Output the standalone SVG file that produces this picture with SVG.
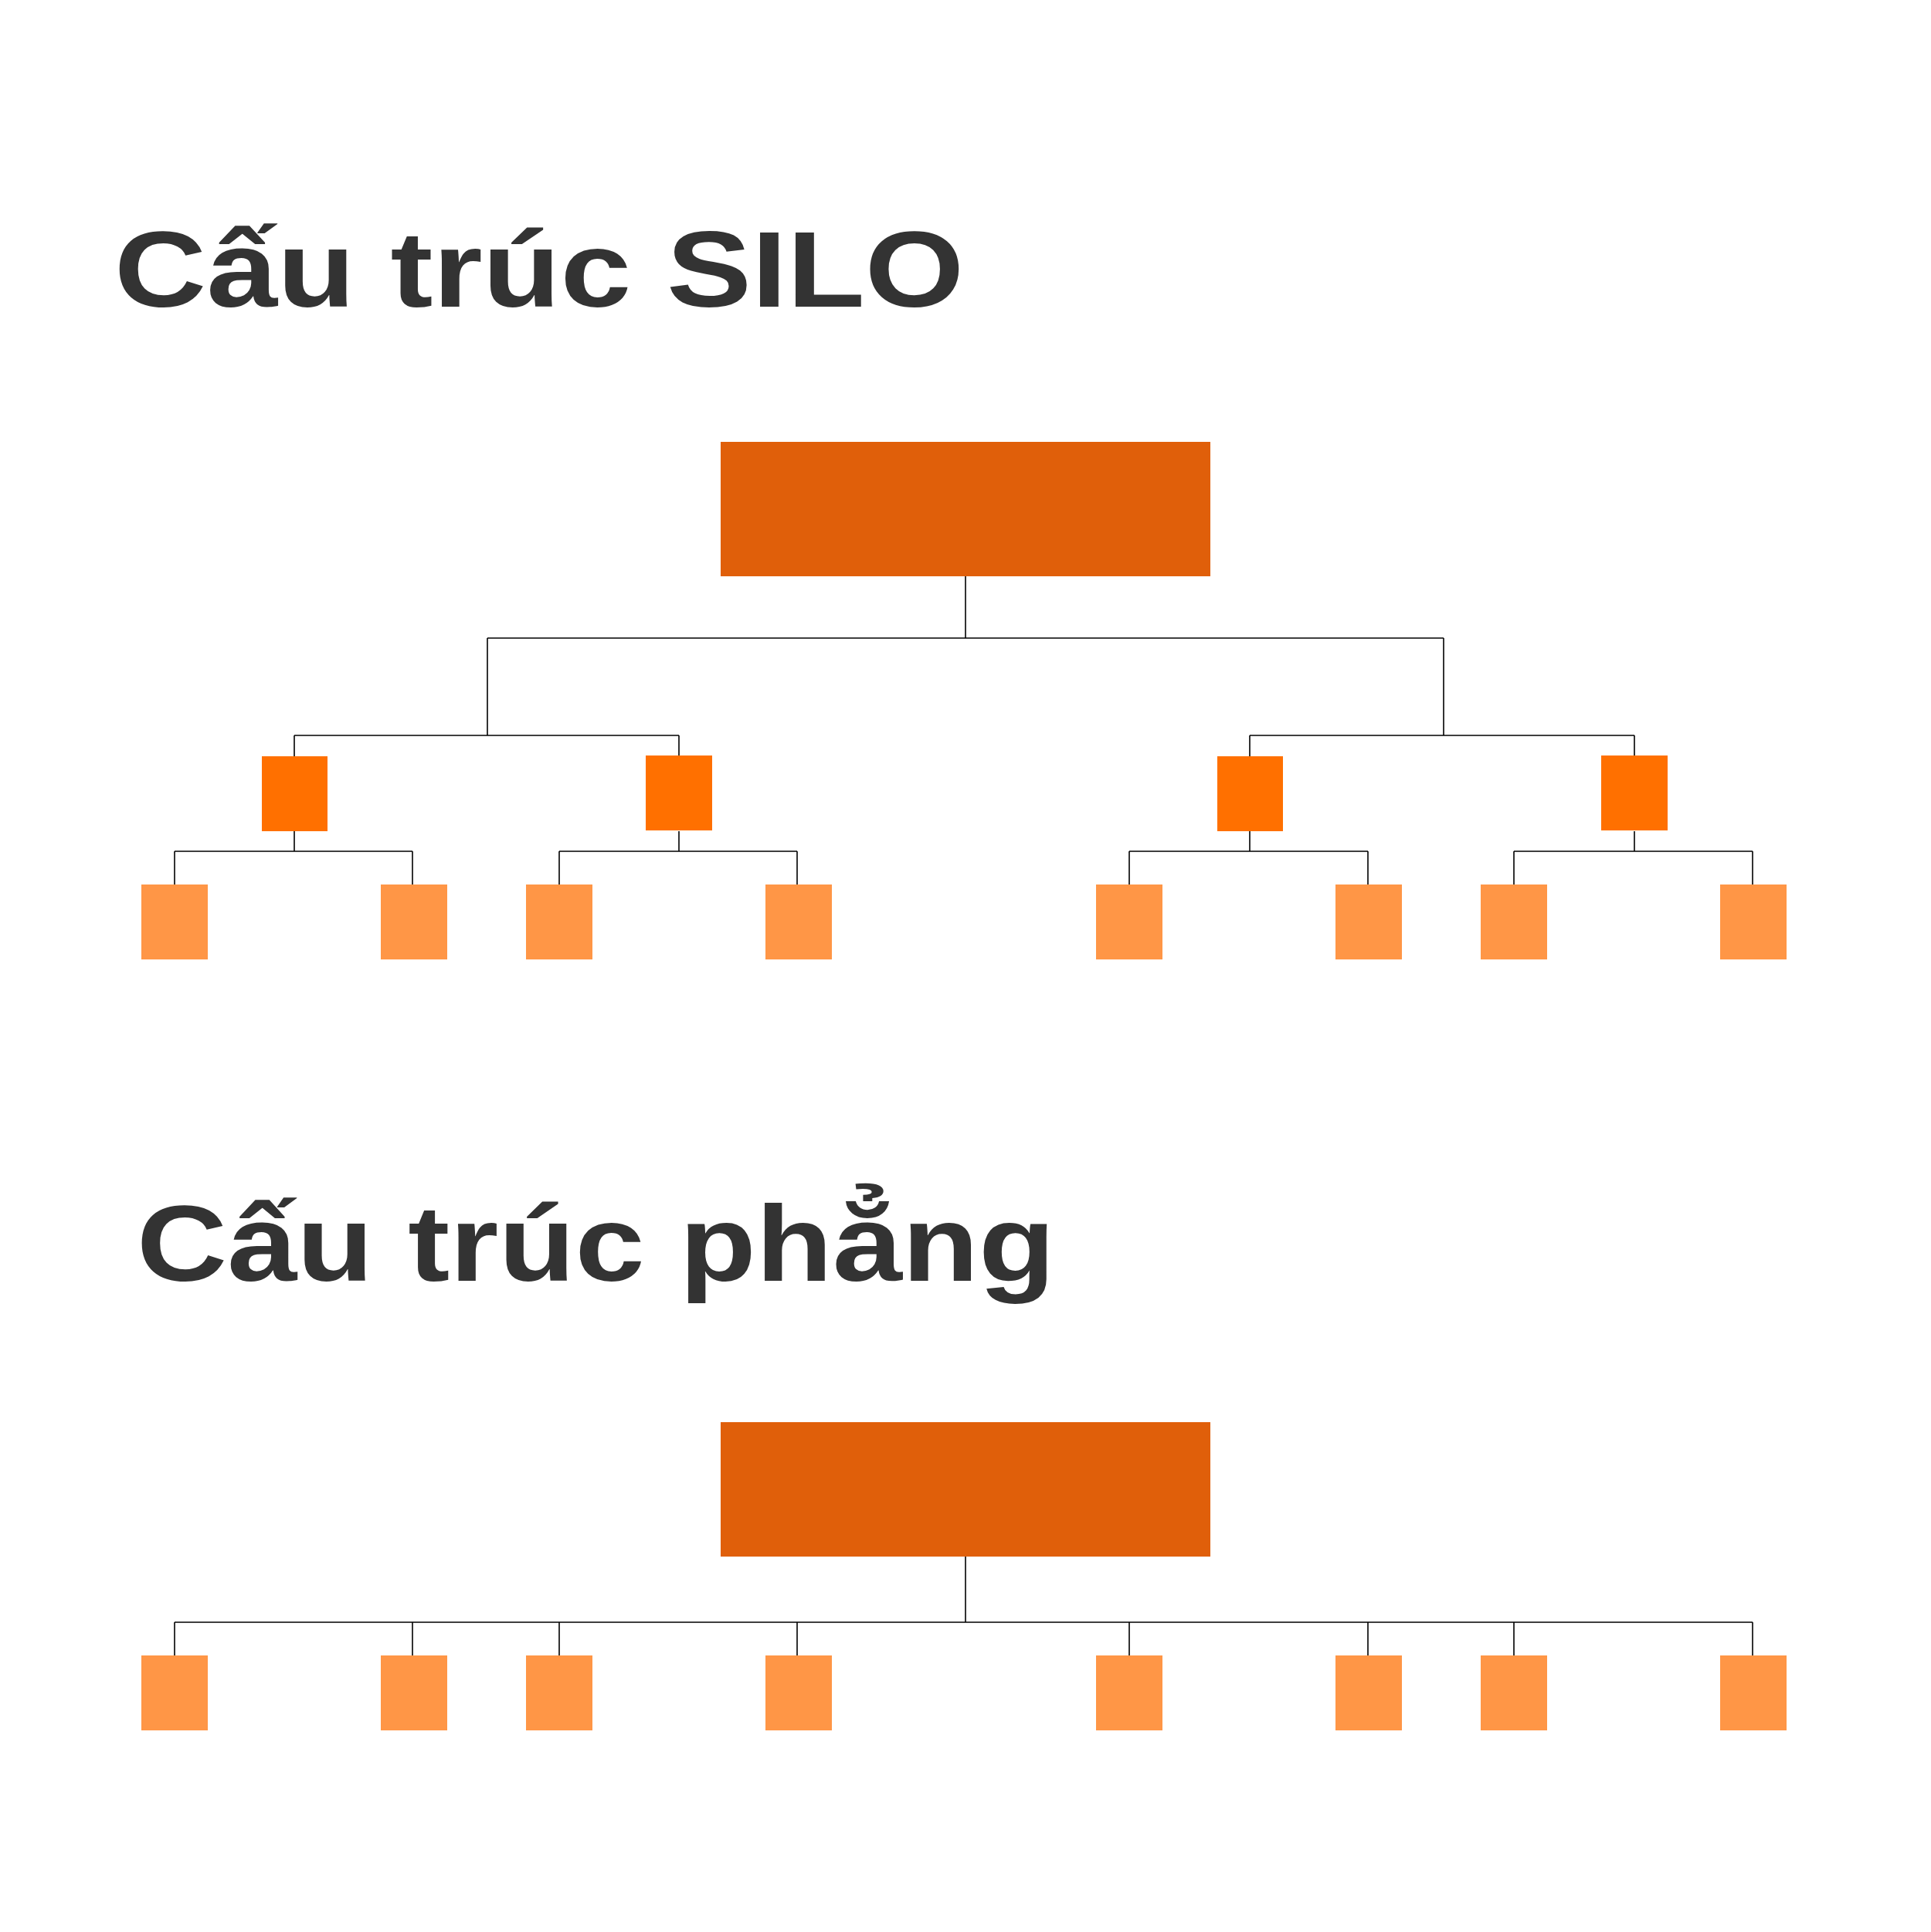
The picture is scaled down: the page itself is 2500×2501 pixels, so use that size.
<svg xmlns="http://www.w3.org/2000/svg" width="2500" height="2501" viewBox="0 0 2500 2501">
<style>
.t{font-family:"Liberation Sans",Arial,sans-serif;font-weight:bold;font-size:140px;fill:#333}
.root{fill:#E05F0A}.mid{fill:#FF7000}.leaf{fill:#FF9646}
.c{stroke:#000;stroke-width:1.6;fill:none}
</style>
<rect width="2500" height="2501" fill="#fff"/>
<text class="t" x="148" y="397" textLength="1100" lengthAdjust="spacingAndGlyphs">Cấu trúc SILO</text>
<text class="t" x="177" y="1658" textLength="1189" lengthAdjust="spacingAndGlyphs">Cấu trúc phẳng</text>
<g id="connectors">
<path class="c" d="M1250 746V826M631 826H1869M631 826V952M1869 826V952M381 952H879M1618 952H2116M381 952V979M879 952V979M1618 952V979M2116 952V979"/>
<path class="c" d="M381 1076V1102M879 1076V1102M1618 1076V1102M2116 1076V1102M226 1102H534M724 1102H1032M1462 1102H1771M1960 1102H2269M226 1102V1145M534 1102V1145M724 1102V1145M1032 1102V1145M1462 1102V1145M1771 1102V1145M1960 1102V1145M2269 1102V1145"/>
<path class="c" d="M1250 2015V2100M226 2100H2269M226 2100V2143M534 2100V2143M724 2100V2143M1032 2100V2143M1462 2100V2143M1771 2100V2143M1960 2100V2143M2269 2100V2143"/>
</g>
<g id="root1"><rect class="root" x="933" y="572" width="634" height="174"/></g>
<g id="m1"><rect class="mid" x="339" y="979" width="85" height="97"/></g>
<g id="m2"><rect class="mid" x="836" y="978" width="86" height="97"/></g>
<g id="m3"><rect class="mid" x="1576" y="979" width="85" height="97"/></g>
<g id="m4"><rect class="mid" x="2073" y="978" width="86" height="97"/></g>
<g id="l1"><rect class="leaf" x="183" y="1145" width="86" height="97"/></g>
<g id="l2"><rect class="leaf" x="493" y="1145" width="86" height="97"/></g>
<g id="l3"><rect class="leaf" x="681" y="1145" width="86" height="97"/></g>
<g id="l4"><rect class="leaf" x="991" y="1145" width="86" height="97"/></g>
<g id="l5"><rect class="leaf" x="1419" y="1145" width="86" height="97"/></g>
<g id="l6"><rect class="leaf" x="1729" y="1145" width="86" height="97"/></g>
<g id="l7"><rect class="leaf" x="1917" y="1145" width="86" height="97"/></g>
<g id="l8"><rect class="leaf" x="2227" y="1145" width="86" height="97"/></g>
<g id="root2"><rect class="root" x="933" y="1841" width="634" height="174"/></g>
<g id="f1"><rect class="leaf" x="183" y="2143" width="86" height="97"/></g>
<g id="f2"><rect class="leaf" x="493" y="2143" width="86" height="97"/></g>
<g id="f3"><rect class="leaf" x="681" y="2143" width="86" height="97"/></g>
<g id="f4"><rect class="leaf" x="991" y="2143" width="86" height="97"/></g>
<g id="f5"><rect class="leaf" x="1419" y="2143" width="86" height="97"/></g>
<g id="f6"><rect class="leaf" x="1729" y="2143" width="86" height="97"/></g>
<g id="f7"><rect class="leaf" x="1917" y="2143" width="86" height="97"/></g>
<g id="f8"><rect class="leaf" x="2227" y="2143" width="86" height="97"/></g>
</svg>
